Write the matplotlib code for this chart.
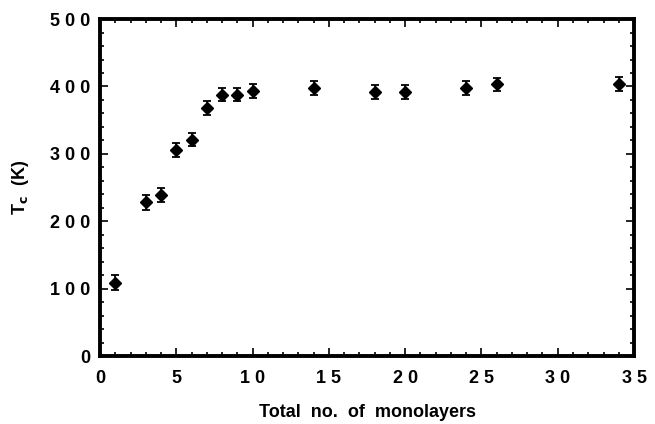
import numpy as np
import matplotlib
matplotlib.use("Agg")
import matplotlib.pyplot as plt
from matplotlib.ticker import MultipleLocator, FixedLocator

# data
layers = [1, 3, 4, 5, 6, 7, 8, 9, 10, 14, 18, 20, 24, 26, 34]
tc = [109, 228, 239, 306, 321, 368, 388, 388, 393, 398, 392, 392, 398, 403, 404]
err = [11, 11, 10, 10, 10, 10, 10, 10, 10, 10, 10, 10, 10, 10, 10]

xticks = [0, 5, 10, 15, 20, 25, 30, 35]
yticks = [0, 100, 200, 300, 400, 500]

def spaced(v):
    return " ".join(str(v))

plt.rcParams['font.family'] = ['Liberation Sans', 'DejaVu Sans']
plt.rcParams['font.weight'] = 'bold'

fig = plt.figure(figsize=(6.55, 4.24), dpi=100)
ax = fig.add_axes([0.1527, 0.160, 0.8153, 0.795])

ax.errorbar(layers, tc, yerr=err, fmt='D', color='black', ms=6.5,
            ecolor='black', elinewidth=1.3, capsize=3, capthick=1.3)

ax.set_xlim(0, 35)
ax.set_ylim(0, 500)
ax.xaxis.set_major_locator(FixedLocator(xticks))
ax.yaxis.set_major_locator(FixedLocator(yticks))
ax.xaxis.set_minor_locator(MultipleLocator(1))
ax.yaxis.set_minor_locator(MultipleLocator(20))
ax.set_xticklabels([spaced(v) for v in xticks])
ax.set_yticklabels([spaced(v) for v in yticks])

for s in ax.spines.values():
    s.set_linewidth(2.8)

ax.tick_params(which='both', direction='in', top=True, right=True,
               labelsize=13, width=1.2)
ax.tick_params(which='major', length=6)
ax.tick_params(axis='x', which='major', pad=10)
ax.tick_params(axis='y', which='major', pad=7)
ax.tick_params(which='minor', length=3)
for lab in ax.get_xticklabels() + ax.get_yticklabels():
    lab.set_fontweight('bold')

ax.set_xlabel("Total  no.  of  monolayers", fontsize=13, fontweight='bold', labelpad=12)
ax.set_ylabel(r"T$_\mathbf{c}$  (K)", fontsize=13, fontweight='bold', labelpad=14)

fig.savefig("out.png", dpi=100)
